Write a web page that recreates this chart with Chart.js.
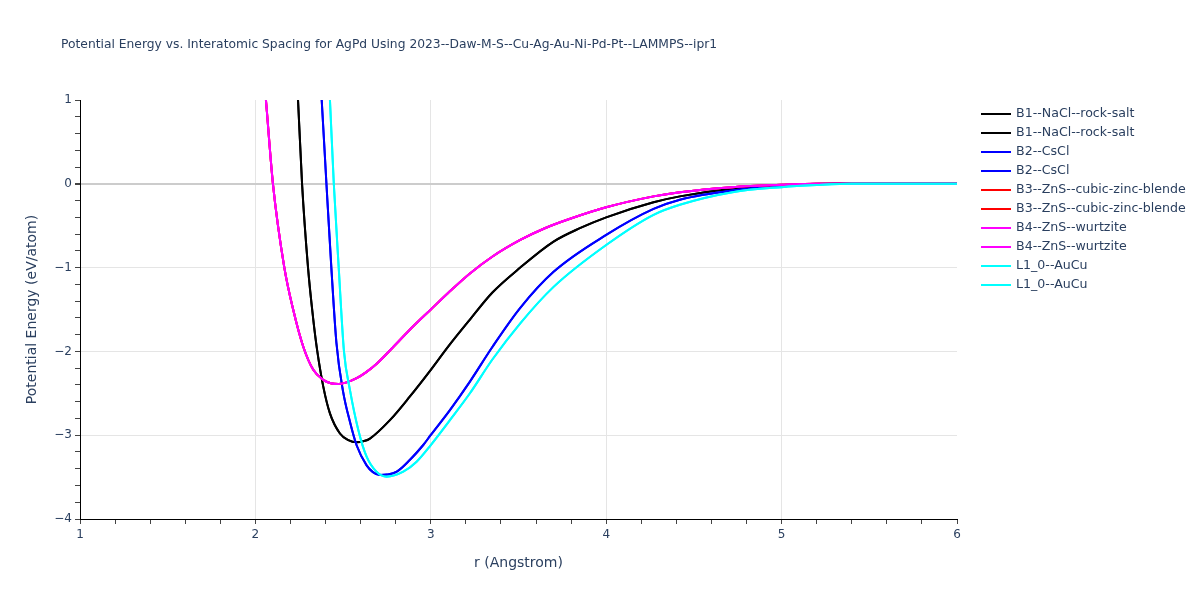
<!DOCTYPE html>
<html>
<head>
<meta charset="utf-8">
<script src="https://cdn.jsdelivr.net/npm/chart.js@4.4.1/dist/chart.umd.min.js"></script>
<style>
html,body{margin:0;padding:0;background:#fff;}
#wrap{width:1200px;height:600px;position:relative;}
</style>
</head>
<body>
<div id="wrap"><canvas id="c" width="1200" height="600"></canvas></div>
<script>
const chartTitle = "Potential Energy vs. Interatomic Spacing for AgPd Using 2023--Daw-M-S--Cu-Ag-Au-Ni-Pd-Pt--LAMMPS--ipr1";
const xTitle = "r (Angstrom)";
const yTitle = "Potential Energy (eV/atom)";

const seriesNames = ["B1--NaCl--rock-salt","B1--NaCl--rock-salt","B2--CsCl","B2--CsCl",
  "B3--ZnS--cubic-zinc-blende","B3--ZnS--cubic-zinc-blende","B4--ZnS--wurtzite","B4--ZnS--wurtzite",
  "L1_0--AuCu","L1_0--AuCu"];
const seriesColors = ["#000000","#000000","#0000ff","#0000ff","#ff0000","#ff0000","#ff00ff","#ff00ff","#00ffff","#00ffff"];

// B1 NaCl rock-salt
const r_B1 = [2.22,2.243,2.266,2.30,2.33,2.353,2.387,2.425,2.482,2.53,2.577,2.62,2.653,2.767,2.88,3.0,3.1,3.223,3.35,3.51,3.70,3.85,4.0,4.27,4.42,4.72,5.0,5.25,5.5,6.0];
const E_B1 = [1.8,1.0,0.0,-1.0,-1.62,-2.0,-2.42,-2.74,-2.98,-3.06,-3.085,-3.07,-3.04,-2.82,-2.54,-2.22,-1.94,-1.62,-1.30,-1.0,-0.69,-0.53,-0.40,-0.22,-0.15,-0.06,-0.02,0.0,0.0,0.0];

// B2 CsCl
const r_B2 = [2.36,2.378,2.405,2.433,2.462,2.50,2.539,2.577,2.634,2.67,2.71,2.75,2.806,2.88,2.957,3.0,3.109,3.223,3.35,3.51,3.70,4.0,4.27,4.42,4.72,5.0,5.3,5.6,6.0];
const E_B2 = [1.6,1.0,0.0,-1.0,-1.9,-2.48,-2.84,-3.12,-3.36,-3.44,-3.475,-3.47,-3.435,-3.296,-3.117,-2.997,-2.70,-2.36,-1.95,-1.48,-1.05,-0.61,-0.30,-0.19,-0.08,-0.03,0.0,0.0,0.0];

// B3 ZnS cubic zinc blende (coincides with B4)
const r_B3 = [2.03,2.06,2.10,2.165,2.216,2.273,2.33,2.387,2.43,2.473,2.52,2.577,2.63,2.69,2.824,2.90,3.0,3.1,3.223,3.35,3.51,3.65,3.79,4.0,4.27,4.42,4.72,5.0,5.2,5.5,6.0];
const E_B3 = [1.7,1.0,0.0,-1.0,-1.506,-1.944,-2.22,-2.34,-2.38,-2.39,-2.37,-2.32,-2.25,-2.15,-1.864,-1.70,-1.50,-1.30,-1.07,-0.87,-0.67,-0.53,-0.42,-0.28,-0.15,-0.10,-0.04,-0.012,0.0,0.0,0.0];

// B4 ZnS wurtzite
const r_B4 = [2.03,2.06,2.10,2.165,2.216,2.273,2.33,2.387,2.43,2.473,2.52,2.577,2.63,2.69,2.824,2.90,3.0,3.1,3.223,3.35,3.51,3.65,3.79,4.0,4.27,4.42,4.72,5.0,5.2,5.5,6.0];
const E_B4 = [1.7,1.0,0.0,-1.0,-1.506,-1.944,-2.22,-2.34,-2.38,-2.39,-2.37,-2.32,-2.25,-2.15,-1.864,-1.70,-1.50,-1.30,-1.07,-0.87,-0.67,-0.53,-0.42,-0.28,-0.15,-0.10,-0.04,-0.012,0.0,0.0,0.0];

// L1_0 AuCu
const r_L10 = [2.41,2.425,2.447,2.475,2.505,2.539,2.587,2.634,2.69,2.748,2.843,2.919,3.0,3.109,3.223,3.35,3.51,3.70,4.0,4.27,4.42,4.72,5.0,5.2,5.4,6.0];
const E_L10 = [1.6,1.0,0.0,-1.0,-2.0,-2.46,-2.94,-3.256,-3.435,-3.495,-3.435,-3.316,-3.117,-2.82,-2.50,-2.10,-1.665,-1.23,-0.73,-0.37,-0.25,-0.10,-0.04,-0.015,0.0,0.0];

const rSets = [r_B1,r_B1,r_B2,r_B2,r_B3,r_B3,r_B4,r_B4,r_L10,r_L10];
const eSets = [E_B1,E_B1,E_B2,E_B2,E_B3,E_B3,E_B4,E_B4,E_L10,E_L10];

const xTickMin = 1, xTickMax = 6, yTickMin = -4, yTickMax = 1;

const FONT = "'DejaVu Sans', Verdana, sans-serif";
const TXT = "#2a3f5f";

const datasets = seriesNames.map((name,i)=>({
  label: name,
  data: rSets[i].map((x,k)=>({x:x,y:eSets[i][k]})),
  borderColor: seriesColors[i],
  backgroundColor: seriesColors[i],
  borderWidth: 2,
  pointRadius: 0,
  fill: false,
  cubicInterpolationMode: 'monotone',
  order: seriesNames.length - i
}));

const isInt = v => Math.abs(v - Math.round(v)) < 1e-6;
const fmt = v => { const n = Math.round(v); return n < 0 ? '\u2212' + Math.abs(n) : String(n); };

const extras = {
  id: 'extras',
  beforeDraw(chart){
    const ctx = chart.ctx;
    ctx.save();
    ctx.fillStyle = '#fff';
    ctx.fillRect(0,0,chart.width,chart.height);
    ctx.restore();
  },
  afterDraw(chart){
    const ctx = chart.ctx;
    ctx.save();
    ctx.fillStyle = TXT;
    ctx.font = "12.3px " + FONT;
    ctx.textBaseline = 'middle';
    ctx.textAlign = 'left';
    ctx.fillText(chartTitle, 61, 45);
    ctx.font = "12.6px " + FONT;
    chart.data.datasets.forEach((ds,i)=>{
      const y = 114 + 19*i;
      ctx.strokeStyle = ds.borderColor;
      ctx.lineWidth = 2;
      ctx.beginPath();
      ctx.moveTo(981, y);
      ctx.lineTo(1011, y);
      ctx.stroke();
      ctx.fillStyle = TXT;
      ctx.fillText(ds.label, 1016, y);
    });
    ctx.restore();
  }
};

new Chart(document.getElementById('c'), {
  type: 'line',
  data: { datasets },
  options: {
    responsive: false,
    animation: false,
    devicePixelRatio: 1,
    layout: { padding: { left: 20, right: 243, top: 100, bottom: 24 } },
    plugins: { legend: { display: false }, tooltip: { enabled: false }, title: { display: false } },
    scales: {
      x: {
        type: 'linear', min: xTickMin, max: xTickMax,
        afterFit: s => { s.height = 57; },
        border: { display: true, color: '#000', width: 1 },
        grid: {
          drawTicks: true, tickLength: 5,
          color: c => (isInt(c.tick.value) && c.tick.value > xTickMin && c.tick.value < xTickMax) ? '#e5e5e5' : 'rgba(0,0,0,0)',
          lineWidth: 1,
          tickColor: '#444'
        },
        ticks: {
          stepSize: 0.2, autoSkip: false, maxRotation: 0, padding: 4,
          color: TXT, font: { family: FONT, size: 12 },
          callback: v => isInt(v) ? fmt(v) : ''
        },
        title: { display: true, text: xTitle, color: TXT, font: { family: FONT, size: 14 }, padding: { top: 14 } }
      },
      y: {
        type: 'linear', min: yTickMin, max: yTickMax,
        afterFit: s => { s.width = 60; },
        border: { display: true, color: '#000', width: 1 },
        grid: {
          drawTicks: true, tickLength: 5,
          color: c => {
            const v = c.tick.value;
            if (Math.abs(v) < 1e-6) return '#cccccc';
            return (isInt(v) && v > yTickMin && v < yTickMax) ? '#e5e5e5' : 'rgba(0,0,0,0)';
          },
          lineWidth: c => Math.abs(c.tick.value) < 1e-6 ? 2 : 1,
          tickColor: '#444'
        },
        ticks: {
          stepSize: 0.2, autoSkip: false, padding: 3,
          color: TXT, font: { family: FONT, size: 12 },
          callback: v => isInt(v) ? fmt(v) : ''
        },
        title: { display: true, text: yTitle, color: TXT, font: { family: FONT, size: 14 }, padding: { bottom: 6 } }
      }
    }
  },
  plugins: [extras]
});
</script>
</body>
</html>
